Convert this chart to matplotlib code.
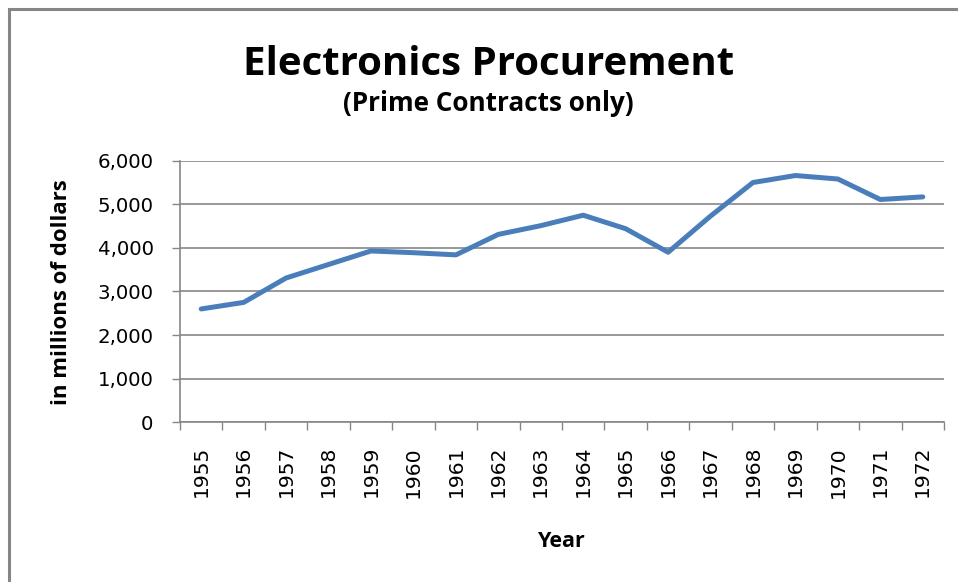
import matplotlib
matplotlib.use("Agg")
import matplotlib.pyplot as plt
from matplotlib.ticker import FixedLocator, FuncFormatter, NullFormatter
from matplotlib.patches import Rectangle

plt.rcParams["font.family"] = ["DejaVu Sans"]

years = ["1955", "1956", "1957", "1958", "1959", "1960", "1961", "1962", "1963",
         "1964", "1965", "1966", "1967", "1968", "1969", "1970", "1971", "1972"]
values = [2600, 2750, 3310, 3620, 3930, 3890, 3840, 4310, 4510,
          4750, 4440, 3900, 4730, 5500, 5660, 5580, 5110, 5170]
y_ticks = [0, 1000, 2000, 3000, 4000, 5000, 6000]

W, H = 958, 582
fig = plt.figure(figsize=(W / 100, H / 100), dpi=100)
fig.patch.set_facecolor("white")

# outer chart border (left/top visible)
fig.patches.append(Rectangle((8.5 / W, 1 - 2000 / H), 3000 / W, (2000 - 9.5) / H,
                             transform=fig.transFigure, fill=False,
                             edgecolor="#868686", linewidth=2.2, clip_on=False))

ax = fig.add_axes([180 / W, 1 - 422.3 / H, (944 - 180) / W, (422.3 - 160.7) / H])
x = list(range(len(years)))
ax.plot(x, values, color="#4A7EBB", linewidth=3.6, solid_joinstyle="round",
        solid_capstyle="round", zorder=3)

ax.set_xlim(-0.5, len(years) - 0.5)
ax.set_ylim(0, 6000)

# y axis
ax.set_yticks(y_ticks)
ax.yaxis.set_major_formatter(FuncFormatter(lambda v, p: f"{int(v):,}"))
ax.tick_params(axis="y", which="major", direction="out", length=6, width=1.0,
               color="#868686", labelsize=14.2, pad=13, labelcolor="#000000")
ax.yaxis.grid(True, color="#868686", linewidth=1.2)
ax.set_axisbelow(True)

# x axis: ticks at category boundaries, labels at centres
ax.xaxis.set_major_locator(FixedLocator([i - 0.5 for i in range(len(years) + 1)]))
ax.xaxis.set_major_formatter(NullFormatter())
ax.xaxis.set_minor_locator(FixedLocator(x))
ax.set_xticklabels(years, minor=True, rotation=90)
ax.tick_params(axis="x", which="minor", length=0, labelsize=14.6, pad=17,
               labelcolor="#000000")
ax.tick_params(axis="x", which="major", direction="out", length=6, width=1.0,
               color="#868686")

for s in ["top", "right"]:
    ax.spines[s].set_visible(False)
for s in ["left", "bottom"]:
    ax.spines[s].set_color("#868686")
    ax.spines[s].set_linewidth(1.2)

tfont = ["Open Sans", "DejaVu Sans"]
fig.text(489 / W, 1 - 75 / H, "Electronics Procurement", ha="center", va="baseline",
         fontsize=29, fontweight="bold", family=tfont)
fig.text(488 / W, 1 - 111 / H, "(Prime Contracts only)", ha="center", va="baseline",
         fontsize=18.8, fontweight="bold", family=tfont)
fig.text(562 / W, 1 - 547 / H, "Year", ha="center", va="baseline",
         fontsize=15.5, fontweight="bold", family=tfont)
fig.text(62 / W, 1 - 292 / H, "in millions of dollars", ha="center", va="center",
         rotation=90, fontsize=16, fontweight="bold", family=tfont)

fig.savefig("out.png", dpi=100, facecolor="white")
